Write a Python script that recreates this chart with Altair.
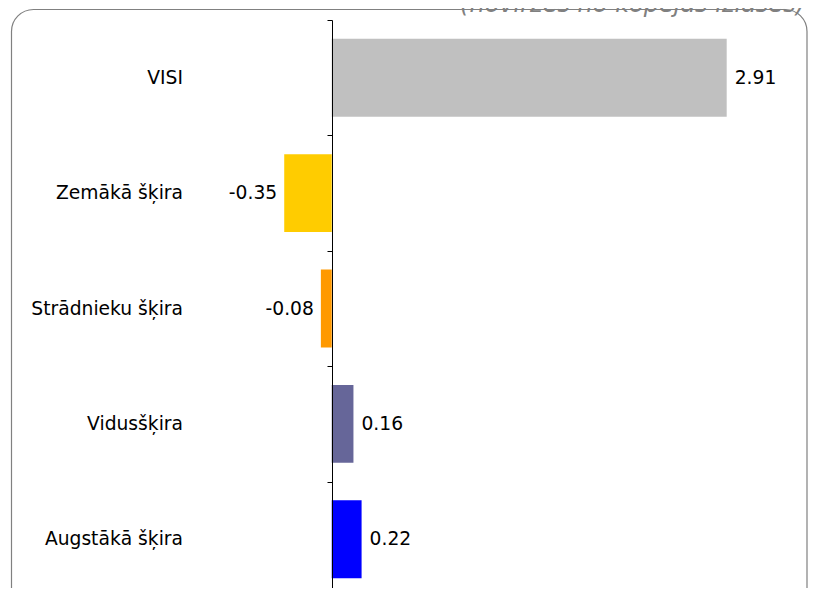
import altair as alt
import pandas as pd

categories = ["VISI", "Zemākā šķira", "Strādnieku šķira", "Vidusšķira", "Augstākā šķira"]
values = [2.91, -0.35, -0.08, 0.16, 0.22]
labels = ["2.91", "-0.35", "-0.08", "0.16", "0.22"]
colors = ["#C0C0C0", "#FFCC00", "#FF9900", "#666699", "#0000FF"]
subtitle = "(novirzes no kopējās izlases)"

df = pd.DataFrame({"cat": categories, "val": values, "lab": labels})

FONT = "DejaVu Sans"
FS = 18.7
W, H = 604, 568
YRANGE = 577

yscale = alt.Scale(paddingInner=0, paddingOuter=0, range=[0, YRANGE])
yenc = alt.Y(
    "cat:N", sort=categories, scale=yscale,
    axis=alt.Axis(labels=False, title=None, orient="left", offset=-136,
                  tickBand="extent", tickSize=5, tickColor="black",
                  domainColor="black", zindex=1),
)
xscale = alt.Scale(domain=[-1.0, 3.45], nice=False, zero=False)

base = alt.Chart(df)

bars = base.mark_bar(height=alt.RelativeBandSize(band=0.675)).encode(
    x=alt.X("val:Q", scale=xscale, axis=None),
    x2=alt.datum(0),
    y=yenc,
    color=alt.Color("cat:N", scale=alt.Scale(domain=categories, range=colors), legend=None),
)

ytxt = alt.Y("cat:N", sort=categories)

pos_lab = base.transform_filter("datum.val >= 0").mark_text(
    align="left", baseline="middle", dx=8, font=FONT, fontSize=FS, color="black"
).encode(x=alt.X("val:Q", scale=xscale), y=ytxt, text="lab:N")

neg_lab = base.transform_filter("datum.val < 0").mark_text(
    align="right", baseline="middle", dx=-7, font=FONT, fontSize=FS, color="black"
).encode(x=alt.X("val:Q", scale=xscale), y=ytxt, text="lab:N")

cat_lab = base.mark_text(
    align="right", baseline="middle", font=FONT, fontSize=FS, color="black"
).encode(x=alt.value(-13), y=ytxt, text="cat:N")

one = alt.Chart(pd.DataFrame({"t": [subtitle]}))
frame = one.mark_rect(fillOpacity=0, stroke="#808080", strokeWidth=1.2, cornerRadius=22).encode(
    x=alt.value(-184.5), x2=alt.value(611), y=alt.value(-10.5), y2=alt.value(650)
)
title = one.mark_text(
    align="right", baseline="alphabetic", font=FONT, fontSize=24, fontStyle="italic", color="#808080"
).encode(x=alt.value(609), y=alt.value(-8), text="t:N")

chart = alt.layer(frame, bars, pos_lab, neg_lab, cat_lab, title).properties(
    width=W, height=H,
    autosize=alt.AutoSizeParams(type="none"),
    padding={"left": 188, "top": 12, "right": 8, "bottom": 0},
).configure_view(stroke=None)

chart.save("out.html", embed_options={"renderer": "svg", "actions": False})
